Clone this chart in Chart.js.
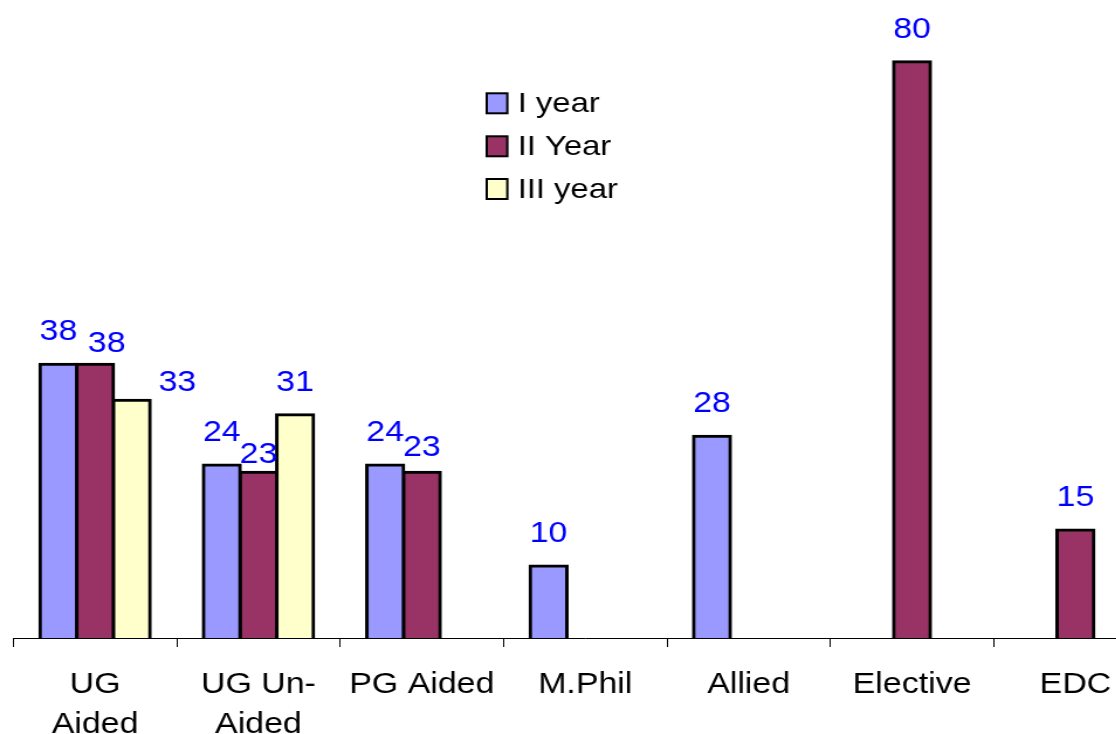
<!DOCTYPE html>
<html><head><meta charset="utf-8">
<script src="https://cdn.jsdelivr.net/npm/chart.js@4.4.1/dist/chart.umd.min.js"></script>
<style>
html,body{margin:0;padding:0;background:#fff;overflow:hidden;width:1116px;height:734px;}
#wrap{position:absolute;left:0;top:0;width:1000px;height:763px;transform:scaleX(1.17);transform-origin:0 0;}
canvas{display:block;}
</style></head><body>
<div id="wrap"><canvas id="c" width="1000" height="763" style="width:1000px;height:763px"></canvas></div>
<script>
// ---- data ----
const categories = [['UG', 'Aided'], ['UG Un-', 'Aided'], 'PG Aided', 'M.Phil', 'Allied', 'Elective', 'EDC'];
const seriesNames = ['I year', 'II Year', 'III year'];
const firstYear  = [38, 24, 24, 10, 28, null, null];
const secondYear = [38, 23, 23, null, null, 80, 15];
const thirdYear  = [33, 31, null, null, null, null, null];
const yMin = 0;
const yMax = 88;

// ---- styles ----
const FONT = "'Liberation Sans', Arial, sans-serif";
const colors = ['#9999FF', '#993366', '#FFFFCC'];
const seriesValues = [firstYear, secondYear, thirdYear];

// label nudges (dataset-index) -> [dx, dy] in internal px, as placed in the original
const labelNudge = { '1-0': [10, 12], '2-0': [39, 15], '1-1': [0, 15], '1-2': [0, 8] };

const valueLabels = {
  id: 'valueLabels',
  afterDatasetsDraw(chart) {
    const ctx = chart.ctx;
    ctx.save();
    ctx.font = '29px ' + FONT;
    ctx.fillStyle = '#0000FF';
    ctx.textAlign = 'center';
    ctx.textBaseline = 'middle';
    chart.data.datasets.forEach((ds, di) => {
      const meta = chart.getDatasetMeta(di);
      meta.data.forEach((el, i) => {
        const v = ds.data[i];
        if (v === null || v === undefined) return;
        const n = labelNudge[di + '-' + i] || [0, 0];
        ctx.fillText(String(v), el.x + n[0], el.y - 32 + n[1]);
      });
    });
    ctx.restore();
  }
};

const boxLegend = {
  id: 'boxLegend',
  afterDraw(chart) {
    const ctx = chart.ctx;
    const rows = [103.3, 146.3, 189];
    ctx.save();
    ctx.font = '28px ' + FONT;
    ctx.textAlign = 'left';
    ctx.textBaseline = 'middle';
    chart.data.datasets.forEach((ds, i) => {
      const cy = rows[i];
      ctx.fillStyle = ds.backgroundColor;
      ctx.fillRect(416, cy - 10, 17.6, 20);
      ctx.lineWidth = 2;
      ctx.strokeStyle = '#000';
      ctx.strokeRect(416, cy - 10, 17.6, 20);
      ctx.fillStyle = '#000';
      ctx.fillText(ds.label, 442.5, cy + 1);
    });
    ctx.restore();
  }
};

new Chart(document.getElementById('c'), {
  type: 'bar',
  data: {
    labels: categories,
    datasets: seriesNames.map((name, i) => ({
      label: name,
      data: seriesValues[i],
      backgroundColor: colors[i],
      borderColor: '#000',
      borderWidth: 3,
      inflateAmount: 1.5,
      categoryPercentage: 0.673,
      barPercentage: 1.0
    }))
  },
  options: {
    responsive: false,
    devicePixelRatio: 1,
    animation: false,
    layout: { padding: { left: 11.4, right: 11, top: 4, bottom: 0 } },
    plugins: { legend: { display: false }, tooltip: { enabled: false } },
    scales: {
      x: {
        offset: true,
        border: { display: true, color: '#000', width: 1 },
        grid: { display: true, offset: true, drawOnChartArea: false, drawTicks: true, tickLength: 9, color: '#000', lineWidth: 1 },
        ticks: { color: '#000', font: { family: FONT, size: 29, lineHeight: 40 / 29 }, padding: 18, maxRotation: 0, autoSkip: false }
      },
      y: { display: false, min: yMin, max: yMax }
    }
  },
  plugins: [valueLabels, boxLegend]
});
</script>
</body></html>
